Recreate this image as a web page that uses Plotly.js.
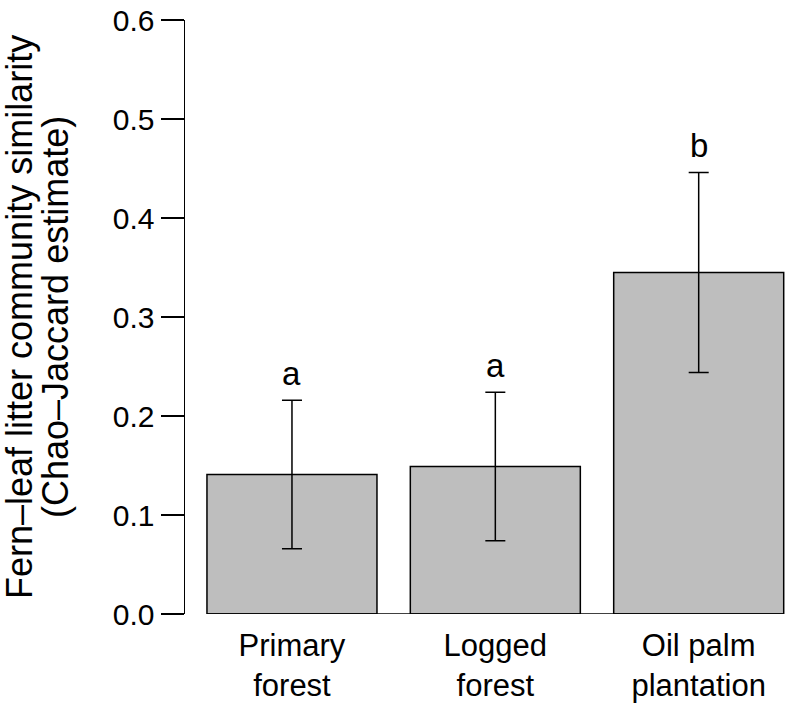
<!DOCTYPE html>
<html>
<head>
<meta charset="utf-8">
<script src="https://cdn.plot.ly/plotly-3.0.1.min.js"></script>
<style>
  html, body { margin: 0; padding: 0; background: #fff; }
  #chart { width: 790px; height: 707px; }
</style>
</head>
<body>
<div id="chart"></div>
<script>
// Chao-Jaccard similarity by habitat
var habitats = ['Primary<br>forest', 'Logged<br>forest', 'Oil palm<br>plantation'];
var similarity = [0.141, 0.149, 0.345];
var upper = [0.216, 0.224, 0.446];
var lower = [0.066, 0.074, 0.244];
var letters = ['a', 'a', 'b'];
var yTitleLines = ['Fern\u2013leaf litter community similarity', '(Chao\u2013Jaccard estimate)'];

var xPos = [];
var errPlus = [];
var errMinus = [];
for (let i = 0; i < habitats.length; i++) {
  xPos.push(i);
  errPlus.push(upper[i] - similarity[i]);
  errMinus.push(similarity[i] - lower[i]);
}

var barWidth = 0.836;
var font = 'Liberation Sans, Arial, Helvetica, sans-serif';

var data = [{
  type: 'bar',
  x: xPos,
  y: similarity,
  width: barWidth,
  marker: { color: '#bebebe', line: { color: '#000', width: 1.5 } },
  error_y: {
    type: 'data',
    symmetric: false,
    array: errPlus,
    arrayminus: errMinus,
    color: '#000',
    thickness: 1.5,
    width: 10
  },
  hoverinfo: 'none'
}];

var annotations = [];
for (let i = 0; i < habitats.length; i++) {
  annotations.push({
    x: xPos[i], y: upper[i], xref: 'x', yref: 'y',
    text: letters[i], showarrow: false,
    yanchor: 'bottom', yshift: 6,
    font: { family: font, size: 33, color: '#000' }
  });
}
// y title drawn as two rotated lines so the line gap can match
var titleShift = [-166, -130];
for (let i = 0; i < yTitleLines.length; i++) {
  annotations.push({
    x: 0, y: 0.5, xref: 'paper', yref: 'paper',
    text: yTitleLines[i], showarrow: false, textangle: -90,
    xanchor: 'center', yanchor: 'middle', xshift: titleShift[i],
    font: { family: font, size: 36, color: '#000' }
  });
}

var layout = {
  width: 790,
  height: 707,
  margin: { l: 185, r: 0, t: 20, b: 93 },
  paper_bgcolor: '#fff',
  plot_bgcolor: '#fff',
  showlegend: false,
  font: { family: font, size: 30, color: '#000' },
  xaxis: {
    range: [-0.526, 2.449],
    tickvals: xPos,
    ticktext: habitats,
    showline: false,
    showgrid: false,
    zeroline: false,
    ticks: '',
    ticklabelstandoff: 10,
    tickfont: { size: 31 }
  },
  yaxis: {
    range: [0, 0.6],
    tickvals: [0, 0.1, 0.2, 0.3, 0.4, 0.5, 0.6],
    ticktext: ['0.0', '0.1', '0.2', '0.3', '0.4', '0.5', '0.6'],
    showline: true,
    linecolor: '#000',
    linewidth: 1.5,
    showgrid: false,
    zeroline: false,
    ticks: 'outside',
    ticklen: 23,
    tickwidth: 1.5,
    tickcolor: '#000',
    tickfont: { size: 30 }
  },
  shapes: [{
    type: 'line', xref: 'x', yref: 'y',
    x0: xPos[0] - barWidth / 2, x1: xPos[xPos.length - 1] + barWidth / 2,
    y0: 0, y1: 0,
    line: { color: '#000', width: 1.5 }
  }],
  annotations: annotations
};

Plotly.newPlot('chart', data, layout, { displayModeBar: false, staticPlot: true });
</script>
</body>
</html>
